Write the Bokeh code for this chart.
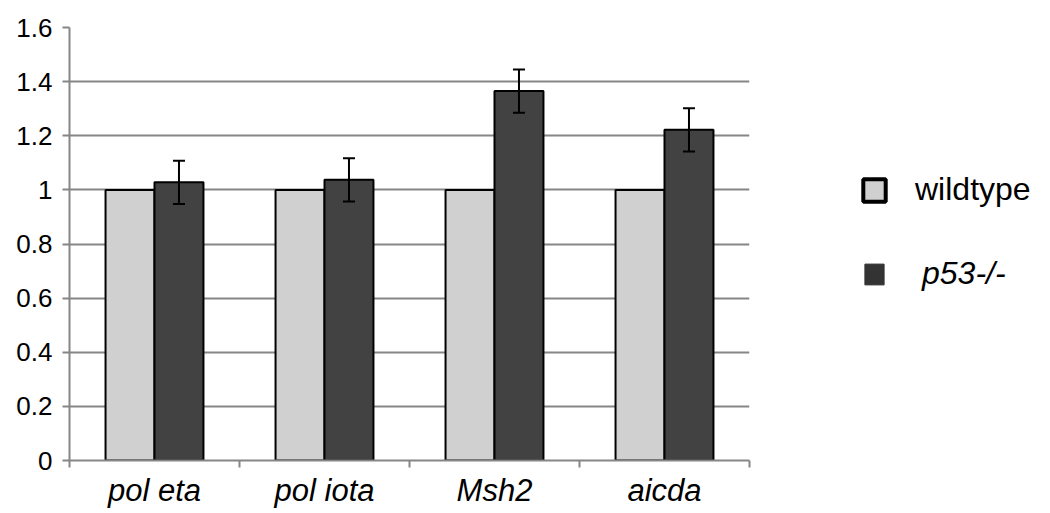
from bokeh.plotting import figure
from bokeh.layouts import row
from bokeh.models import (ColumnDataSource, FixedTicker, Whisker, TeeHead, Legend,
                          LegendItem, Range1d)
from bokeh.embed import file_html
from bokeh.resources import INLINE

categories = ["pol eta", "pol iota", "Msh2", "aicda"]
wildtype = [1.0, 1.0, 1.0, 1.0]
p53 = [1.028, 1.037, 1.365, 1.222]
p53_err = [0.08, 0.08, 0.08, 0.08]
y_ticks = [0, 0.2, 0.4, 0.6, 0.8, 1, 1.2, 1.4, 1.6]
y_tick_labels = ["0", "0.2", "0.4", "0.6", "0.8", "1", "1.2", "1.4", "1.6"]
series_names = ["wildtype", "p53-/-"]

centers = [i + 0.5 for i in range(len(categories))]
bar_w = 0.288
off = 0.144

src = ColumnDataSource(dict(
    xw=[c - off for c in centers],
    xp=[c + off for c in centers],
    wt=wildtype,
    p53=p53,
    up=[v + e for v, e in zip(p53, p53_err)],
    lo=[v - e for v, e in zip(p53, p53_err)],
))

FONT = "Liberation Sans"
GRAY = "#868686"
LIGHT = "#d0d0d0"
DARK = "#424242"

p = figure(frame_width=680, frame_height=433, output_backend="svg", toolbar_location=None,
           x_range=Range1d(0, len(categories)), y_range=Range1d(0, 1.6),
           min_border_left=69, min_border_right=10, min_border_top=27, min_border_bottom=50)
p.outline_line_color = None

p.vbar(x="xw", top="wt", width=bar_w, source=src, fill_color=LIGHT,
       line_color="black", line_width=2)
p.vbar(x="xp", top="p53", width=bar_w, source=src, fill_color=DARK,
       line_color="black", line_width=2)

wh = Whisker(base="xp", upper="up", lower="lo", source=src, line_color="black", line_width=2,
             upper_head=TeeHead(size=12, line_width=2, line_color="black"),
             lower_head=TeeHead(size=12, line_width=2, line_color="black"),
             level="overlay")
p.add_layout(wh)

# axes
p.xaxis.ticker = FixedTicker(ticks=centers, minor_ticks=list(range(len(categories) + 1)))
p.xaxis.major_label_overrides = {c: n for c, n in zip(centers, categories)}
p.xaxis.major_tick_line_color = None
p.xaxis.minor_tick_line_color = GRAY
p.xaxis.minor_tick_line_width = 2
p.xaxis.minor_tick_in = 0
p.xaxis.minor_tick_out = 7
p.xaxis.axis_line_color = GRAY
p.xaxis.axis_line_width = 2
p.xaxis.major_label_text_font = FONT
p.xaxis.major_label_text_font_style = "italic"
p.xaxis.major_label_text_font_size = "31px"
p.xaxis.major_label_text_color = "black"
p.xaxis.major_label_standoff = 5

p.yaxis.ticker = FixedTicker(ticks=y_ticks, minor_ticks=[])
p.yaxis.major_label_overrides = {t: l for t, l in zip(y_ticks, y_tick_labels)}
p.yaxis.major_tick_line_color = GRAY
p.yaxis.major_tick_line_width = 2
p.yaxis.major_tick_in = 0
p.yaxis.major_tick_out = 7
p.yaxis.minor_tick_line_color = None
p.yaxis.axis_line_color = GRAY
p.yaxis.axis_line_width = 2
p.yaxis.major_label_text_font = FONT
p.yaxis.major_label_text_font_size = "26px"
p.yaxis.major_label_text_color = "black"
p.yaxis.major_label_standoff = 10

p.xgrid.grid_line_color = None
p.ygrid.ticker = FixedTicker(ticks=y_ticks[1:])
p.ygrid.grid_line_color = GRAY
p.ygrid.grid_line_width = 2

# legend panel (proxy renderers are hidden; only their legend swatches show)
lg = figure(width=285, height=510, output_backend="svg", toolbar_location=None,
            x_range=Range1d(0, 1), y_range=Range1d(0, 1),
            x_axis_location=None, y_axis_location=None,
            min_border_left=0, min_border_right=0, min_border_top=0, min_border_bottom=0)
lg.outline_line_color = None
lg.grid.visible = False

lw = lg.vbar(x="xw", top="wt", width=bar_w, source=src, fill_color=LIGHT,
             line_color="black", line_width=4, visible=False)
lp = lg.vbar(x="xp", top="p53", width=bar_w, source=src, fill_color="#333333",
             line_color="#333333", line_width=1, visible=False)

common = dict(padding=0, margin=0, border_line_color=None, background_fill_alpha=0,
              inactive_fill_alpha=0, label_text_font=FONT, label_text_font_size="32px",
              label_text_color="black")
leg1 = Legend(items=[LegendItem(label=series_names[0], renderers=[lw])],
              location=(101, 252), glyph_width=28, glyph_height=28, label_standoff=27,
              **common)
leg2 = Legend(items=[LegendItem(label=series_names[1], renderers=[lp])],
              location=(103, 168), glyph_width=24, glyph_height=26, label_standoff=36,
              label_text_font_style="italic", **common)
lg.add_layout(leg1, "center")
lg.add_layout(leg2, "center")

layout = row(p, lg)
open("out.html", "w").write(file_html(layout, INLINE))
